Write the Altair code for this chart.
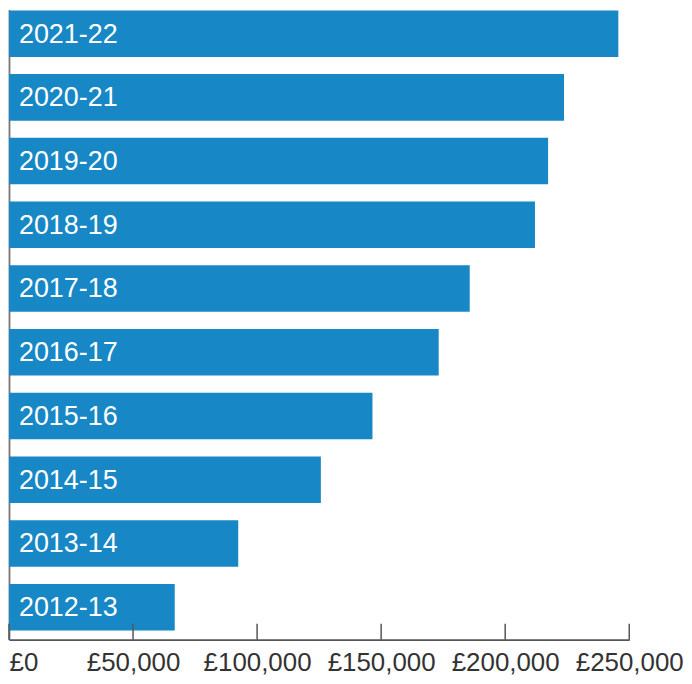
import altair as alt
import pandas as pd

years = ["2021-22", "2020-21", "2019-20", "2018-19", "2017-18",
         "2016-17", "2015-16", "2014-15", "2013-14", "2012-13"]
values = [245600, 223700, 217300, 212000, 185700,
          173200, 146500, 125700, 92400, 66800]
tick_values = [0, 50000, 100000, 150000, 200000, 250000]

W, H = 623, 633
BLUE = "#1787c6"

df = pd.DataFrame({"year": years, "value": values})
ticks_df = pd.DataFrame({"t": tick_values})

xscale = alt.Scale(domain=[0, 250000], nice=False)
yscale = alt.Scale(domain=years, paddingInner=0.27, paddingOuter=0.08, align=0.09)

bars = alt.Chart(df).mark_bar(color=BLUE).encode(
    x=alt.X("value:Q", scale=xscale, title=None,
            axis=alt.Axis(values=tick_values, ticks=False, grid=False,
                          labelExpr="'£' + format(datum.value, ',.0f')",
                          labelFont="Liberation Sans", labelFontSize=26,
                          labelColor="#333333", labelPadding=10,
                          labelAlign=alt.expr("datum.value == 0 ? 'left' : 'center'"),
                          domainColor="#555555", domainWidth=1.8)),
    y=alt.Y("year:N", scale=yscale, sort=years, title=None,
            axis=alt.Axis(labels=False, ticks=False, grid=False,
                          domainColor="#777777", domainWidth=1.8)),
)

labels = alt.Chart(df).mark_text(
    align="left", baseline="middle", dx=10, dy=1, color="white",
    font="Liberation Sans", fontSize=27,
).encode(
    x=alt.datum(0),
    y=alt.Y("year:N", scale=yscale, sort=years),
    text="year:N",
)

tick_rules = alt.Chart(ticks_df).mark_rule(color="#555555", strokeWidth=1.5).encode(
    x=alt.X("t:Q", scale=xscale),
    y=alt.value(H - 16),
    y2=alt.value(H),
)

chart = alt.layer(bars, labels, tick_rules).properties(
    width=W, height=H, padding=0
).configure_view(stroke=None)

chart.save("out.html", embed_options={"renderer": "svg", "actions": False})
